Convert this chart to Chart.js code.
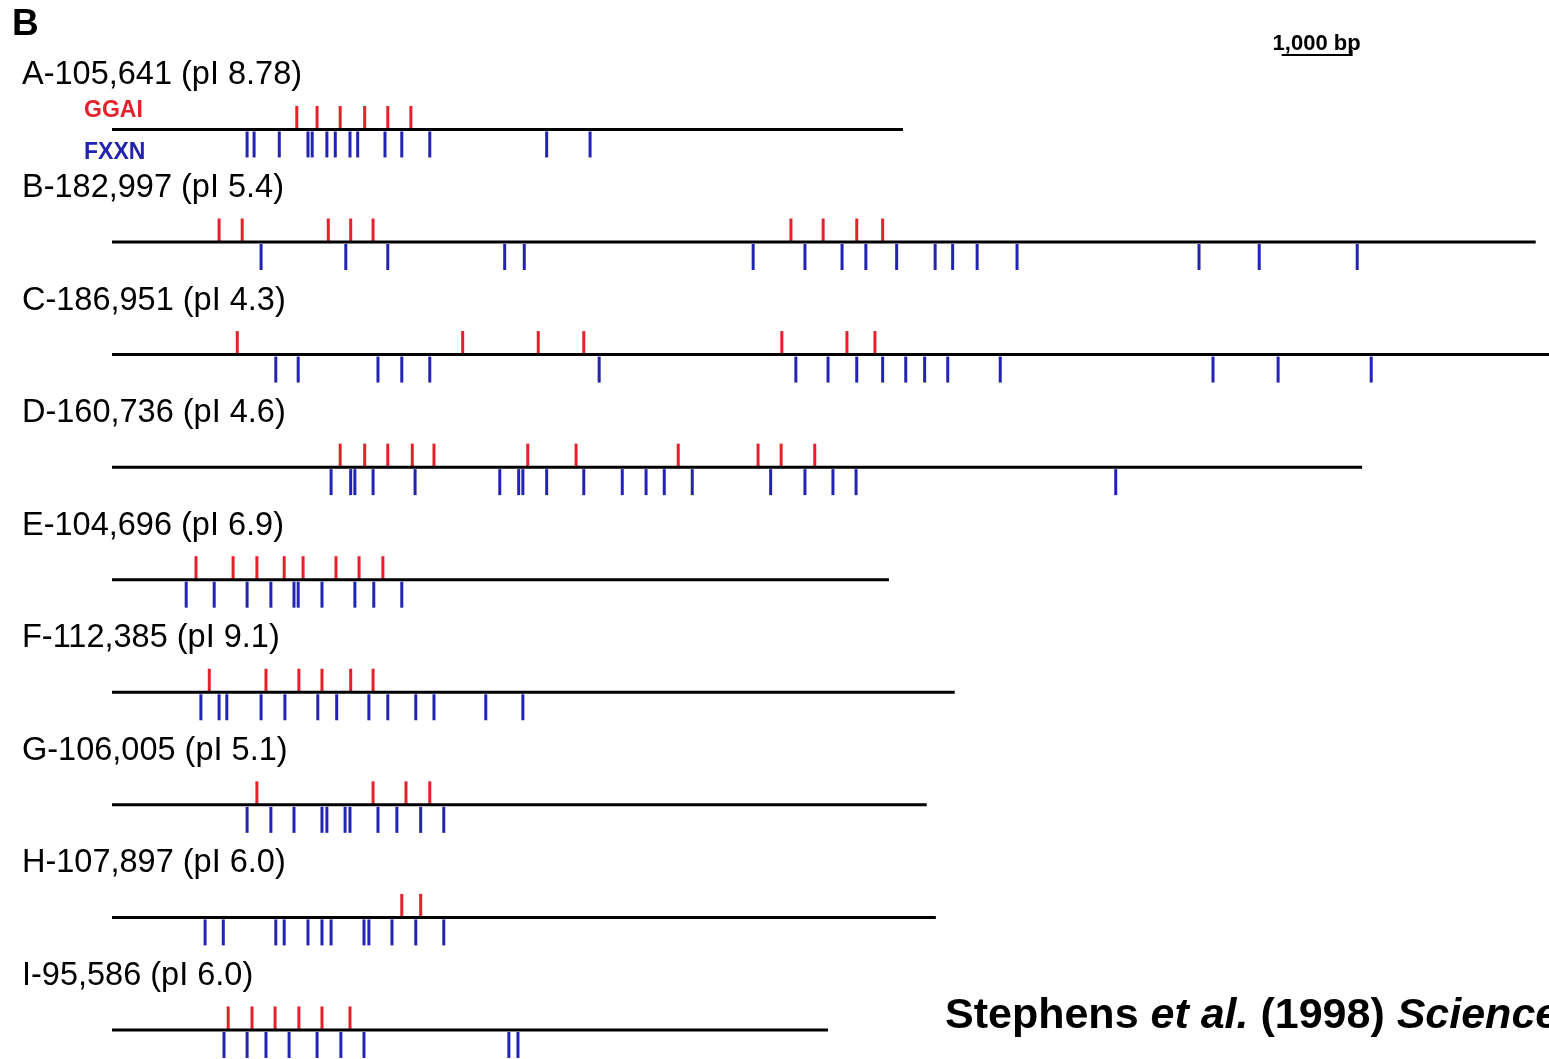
<!DOCTYPE html>
<html>
<head>
<meta charset="utf-8">
<script src="https://cdn.jsdelivr.net/npm/chart.js@4.4.1/dist/chart.umd.min.js"></script>
<style>
  html, body { margin: 0; padding: 0; background: #fff; }
  #wrap { width: 1549px; height: 1059px; position: relative; }
</style>
</head>
<body>
<div id="wrap"><canvas id="chart"></canvas></div>
<script>
// Genes A..I, positions in bp from the start of each gene
const rowLabels = [
    "A-105,641 (pI 8.78)", "B-182,997 (pI 5.4)", "C-186,951 (pI 4.3)",
    "D-160,736 (pI 4.6)", "E-104,696 (pI 6.9)", "F-112,385 (pI 9.1)",
    "G-106,005 (pI 5.1)", "H-107,897 (pI 6.0)", "I-95,586 (pI 6.0)",
];
const geneLengths = [11300, 20340, 20530, 17860, 11100, 12040, 11640, 11770, 10230];

const ggaiSites = [
    [2640, 2930, 3260, 3610, 3940, 4270],
    [1530, 1860, 3090, 3410, 3730, 9700, 10160, 10640, 11010],
    [1790, 5010, 6090, 6740, 9570, 10500, 10900],
    [3260, 3610, 3940, 4290, 4600, 5940, 6630, 8090, 9230, 9560, 10040],
    [1200, 1730, 2070, 2460, 2730, 3200, 3530, 3870],
    [1390, 2200, 2670, 3000, 3410, 3730],
    [2070, 3730, 4200, 4540],
    [4140, 4410],
    [1660, 2000, 2330, 2670, 3000, 3400],
];
const fxxnSites = [
    [1930, 2030, 2390, 2800, 2860, 3070, 3190, 3400, 3510, 3900, 4140, 4540, 6210, 6830],
    [2130, 3340, 3940, 5610, 5890, 9160, 9900, 10430, 10770, 11210, 11760, 12010, 12360, 12930, 15530, 16390, 17790],
    [2340, 2660, 3800, 4140, 4540, 6960, 9770, 10230, 10640, 11010, 11340, 11610, 11940, 12690, 15730, 16660, 17990],
    [3130, 3410, 3470, 3730, 4330, 5540, 5810, 5870, 6210, 6740, 7290, 7630, 7890, 8290, 9410, 9900, 10300, 10630, 14340],
    [1060, 1460, 1930, 2270, 2600, 2660, 3000, 3470, 3740, 4140],
    [1270, 1530, 1640, 2130, 2470, 2940, 3210, 3670, 3940, 4340, 4600, 5340, 5870],
    [1930, 2270, 2600, 3000, 3070, 3330, 3400, 3800, 4070, 4410, 4740],
    [1330, 1590, 2340, 2460, 2800, 3000, 3130, 3600, 3670, 4000, 4340, 4740],
    [1600, 1930, 2200, 2530, 2930, 3270, 3600, 5670, 5800],
];
const scaleBarStart = 16710;
const scaleBarLength = 1000;

const RED = "#e6212b";
const BLUE = "#2323b3";
const FONT = "'Liberation Sans', Arial, Helvetica, sans-serif";
const X_MAX = 20530;
const Y_MIN = -1.15;
const Y_MAX = 8.258;
const PX_PER_ROW = 1059 / (Y_MAX - Y_MIN);

// tick centres sit above / below the gene line
const redShift = -12 / PX_PER_ROW;
const blueShift = 15 / PX_PER_ROW;

function tickData(sites, shift) {
    return sites.flatMap((row, i) => row.map((p) => ({ x: p, y: i + shift })));
}

const geneLines = geneLengths.flatMap((len, i) => [
    { x: 0, y: i }, { x: len, y: i }, { x: len, y: null },
]);

const textPlugin = {
    id: "labels",
    afterDatasetsDraw(chart) {
        const { ctx, scales } = chart;
        const xs = scales.x, ys = scales.y;
        ctx.save();
        ctx.textBaseline = "alphabetic";
        ctx.textAlign = "left";

        ctx.fillStyle = "#000";
        ctx.font = `bold 37px ${FONT}`;
        ctx.fillText("B", 12, 35);

        ctx.font = `32.5px ${FONT}`;
        rowLabels.forEach((label, i) => {
            ctx.fillText(label, 22, ys.getPixelForValue(i) - 45);
        });

        const yA = ys.getPixelForValue(0);
        ctx.font = `bold 23px ${FONT}`;
        ctx.fillStyle = RED;
        ctx.fillText("GGAI", 84, yA - 12);
        ctx.fillStyle = BLUE;
        ctx.fillText("FXXN", 84, yA + 30);

        // scale bar
        const x0 = xs.getPixelForValue(scaleBarStart);
        const x1 = xs.getPixelForValue(scaleBarStart + scaleBarLength);
        ctx.strokeStyle = "#000";
        ctx.lineWidth = 2;
        ctx.beginPath();
        ctx.moveTo(x0, 55);
        ctx.lineTo(x1, 55);
        ctx.lineTo(x1, 50);
        ctx.stroke();
        ctx.fillStyle = "#000";
        ctx.font = `bold 22px ${FONT}`;
        ctx.textAlign = "center";
        ctx.fillText("1,000 bp", (x0 + x1) / 2, 50);

        // citation
        ctx.textAlign = "left";
        const parts = [
            ["bold", "Stephens "], ["italic bold", "et al."], ["bold", " (1998) "], ["italic bold", "Science"],
        ];
        let cx = 945;
        parts.forEach(([style, txt]) => {
            ctx.font = `${style} 43px ${FONT}`;
            ctx.fillText(txt, cx, 1028);
            cx += ctx.measureText(txt).width;
        });
        ctx.restore();
    },
};

const tickStyle = (color, radius) => ({
    showLine: false,
    pointStyle: "line",
    pointRotation: 90,
    pointRadius: radius,
    pointBorderWidth: 3,
    pointBorderColor: color,
    borderColor: color,
    backgroundColor: color,
    clip: false,
});

new Chart(document.getElementById("chart"), {
    type: "scatter",
    plugins: [textPlugin],
    data: {
        datasets: [
            {
                label: "gene",
                data: geneLines,
                showLine: true,
                borderColor: "#000",
                borderWidth: 3,
                pointRadius: 0,
                spanGaps: false,
                clip: false,
            },
            { label: "GGAI", data: tickData(ggaiSites, redShift), ...tickStyle(RED, 11.5) },
            { label: "FXXN", data: tickData(fxxnSites, blueShift), ...tickStyle(BLUE, 13) },
        ],
    },
    options: {
        responsive: true,
        maintainAspectRatio: false,
        animation: false,
        events: [],
        layout: { autoPadding: false, padding: { left: 112, right: 0, top: 0, bottom: 0 } },
        plugins: {
            legend: { display: false },
            tooltip: { enabled: false },
        },
        scales: {
            x: { type: "linear", min: 0, max: X_MAX, display: false },
            y: { type: "linear", min: Y_MIN, max: Y_MAX, reverse: true, display: false },
        },
    },
});
</script>
</body>
</html>
